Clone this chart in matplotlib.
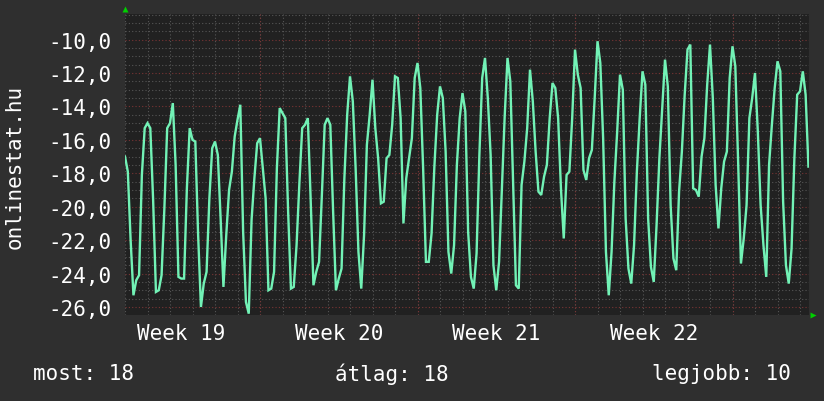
import numpy as np
import matplotlib
matplotlib.use("Agg")
import matplotlib.pyplot as plt
from matplotlib.ticker import MultipleLocator, FixedLocator, FuncFormatter

# ---- data (3-hour samples, starting at midnight of the first day shown) ----
samples_per_day = 8
values = [
    -17.0, -17.9, -22.0, -25.3, -24.4, -24.1, -18.1, -15.3,
    -15.0, -15.3, -19.6, -25.1, -25.0, -24.1, -20.1, -15.3,
    -15.0, -13.8, -17.5, -24.2, -24.3, -24.3, -18.9, -15.3,
    -16.0, -16.1, -21.7, -26.0, -24.6, -23.9, -19.5, -16.5,
    -16.1, -16.9, -20.7, -24.8, -21.7, -19.0, -17.9, -15.8,
    -14.8, -13.9, -21.5, -25.7, -26.4, -20.8, -18.3, -16.2,
    -15.9, -17.7, -19.5, -25.0, -24.9, -23.9, -17.7, -14.1,
    -14.4, -14.7, -20.3, -24.9, -24.8, -22.3, -18.6, -15.3,
    -15.1, -14.7, -19.5, -24.7, -23.9, -23.3, -19.3, -15.1,
    -14.7, -15.1, -20.3, -25.0, -24.3, -23.7, -18.3, -14.5,
    -12.2, -13.7, -17.7, -22.7, -24.9, -21.7, -16.3, -14.5,
    -12.4, -15.3, -17.1, -19.8, -19.7, -17.1, -16.9, -15.1,
    -12.2, -12.3, -14.7, -21.0, -18.3, -17.1, -15.9, -12.3,
    -11.4, -12.9, -17.7, -23.3, -23.3, -21.6, -17.6, -14.5,
    -12.8, -13.5, -16.7, -22.7, -24.0, -22.3, -17.5, -14.7,
    -13.2, -14.3, -21.5, -24.2, -24.9, -22.8, -16.9, -12.3,
    -11.1, -13.5, -16.9, -23.5, -25.0, -23.3, -18.9, -14.6,
    -11.1, -12.5, -18.7, -24.7, -24.9, -18.7, -17.3, -15.3,
    -11.8, -13.7, -16.7, -19.1, -19.3, -18.2, -17.5, -14.7,
    -12.6, -12.9, -14.7, -18.9, -21.9, -18.1, -17.9, -14.7,
    -10.6, -12.1, -12.9, -17.8, -18.4, -17.1, -16.6, -13.5,
    -10.1, -11.4, -15.9, -22.7, -25.3, -22.7, -18.5, -15.5,
    -12.1, -13.0, -20.7, -23.7, -24.6, -22.3, -17.9, -14.7,
    -11.9, -12.7, -20.7, -23.6, -24.5, -21.1, -17.1, -14.1,
    -11.2, -12.8, -19.9, -23.1, -23.8, -19.1, -16.7, -13.3,
    -10.6, -10.3, -18.9, -19.0, -19.4, -17.0, -15.9, -12.7,
    -10.3, -13.5, -18.7, -21.3, -18.9, -17.3, -16.7, -12.3,
    -10.4, -11.6, -17.3, -23.4, -21.9, -19.9, -14.7, -13.5,
    -12.0, -15.5, -19.9, -22.3, -24.2, -17.5, -15.1, -12.9,
    -11.3, -11.9, -19.7, -23.5, -24.6, -22.5, -17.1, -13.3,
    -13.1, -11.9, -13.3, -17.6,
]
week_labels = ["Week 19", "Week 20", "Week 21", "Week 22"]
week_label_days = [2.5, 9.5, 16.5, 23.5]   # mid-week positions (days from start)
week_boundary_days = [6, 13, 20, 27]
y_ticks = [-26, -24, -22, -20, -18, -16, -14, -12, -10]
ylabel = "onlinestat.hu"
footer_left = "most: 18"
footer_mid = "átlag: 18"
footer_right = "legjobb: 10"

# ---- style ----
BG = "#2f2f2f"
PLOT_BG = "#212121"
LINE = "#72f2b6"
MINOR = "#565656"
MAJOR = "#7a3434"
FONT = "DejaVu Sans Mono"
FS = 15

fig = plt.figure(figsize=(8.24, 4.02), dpi=100, facecolor=BG)
ax = fig.add_axes([125 / 824, 86 / 402, 684 / 824, 301 / 402], facecolor=PLOT_BG)

t = np.arange(len(values)) / samples_per_day
ax.plot(t, values, color=LINE, lw=1.7, zorder=3, solid_joinstyle="miter")

ax.set_xlim(0, 684 / 22.5)
ax.set_ylim(-26.48, -8.47)

# grids
ax.yaxis.set_major_locator(FixedLocator(y_ticks))
ax.yaxis.set_minor_locator(MultipleLocator(0.5))
ax.xaxis.set_major_locator(FixedLocator(week_label_days))
ax.xaxis.set_minor_locator(MultipleLocator(1))
ax.grid(which="minor", color=MINOR, ls=(0, (1, 2)), lw=0.8, zorder=1)
ax.grid(which="major", axis="y", color=MAJOR, ls=(0, (1, 2)), lw=0.8, zorder=2)
for d in week_boundary_days:
    ax.axvline(d, color=MAJOR, ls=(0, (1, 2)), lw=0.8, zorder=2)

ax.yaxis.set_major_formatter(FuncFormatter(lambda v, p: f"{v:.1f}".replace(".", ",")))
ax.set_xticklabels(week_labels)
ax.tick_params(axis="both", which="both", length=0, colors="white", labelsize=FS)
ax.tick_params(axis="y", pad=10)
ax.tick_params(axis="x", pad=6)
for lab in ax.get_xticklabels() + ax.get_yticklabels():
    lab.set_family(FONT)
for s in ax.spines.values():
    s.set_visible(False)

fig.text(15 / 824, 1 - 167 / 402, ylabel, rotation=90, color="white", family=FONT,
         fontsize=FS, ha="center", va="center")

# axis arrows
ax.plot([0], [1.016], marker="^", ms=5, color="#00d000", transform=ax.transAxes, clip_on=False, mec="none")
ax.plot([1.006], [0], marker=">", ms=5, color="#00d000", transform=ax.transAxes, clip_on=False, mec="none")

# footer
fy = 1 - 374 / 402
fig.text(33 / 824, fy, footer_left, color="white", family=FONT, fontsize=FS, ha="left", va="center")
fig.text(335 / 824, fy, footer_mid, color="white", family=FONT, fontsize=FS, ha="left", va="center")
fig.text(791 / 824, fy, footer_right, color="white", family=FONT, fontsize=FS, ha="right", va="center")

fig.savefig("out.png", dpi=100, facecolor=BG)
